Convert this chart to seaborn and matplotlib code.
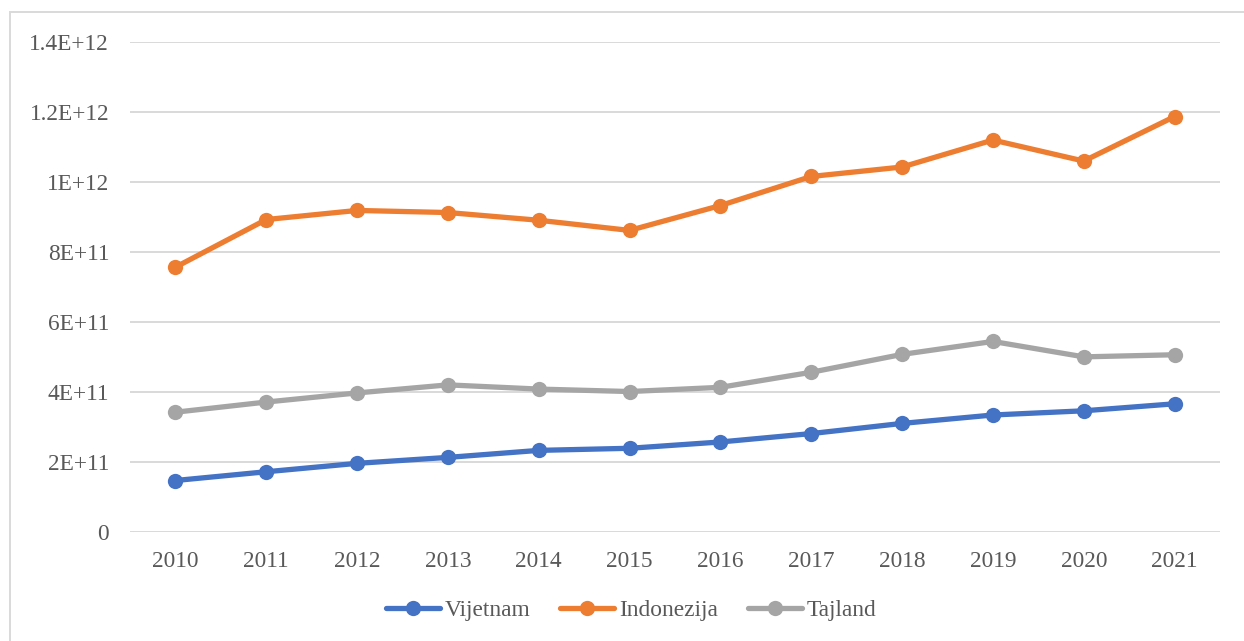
import matplotlib
matplotlib.use("Agg")
import matplotlib.pyplot as plt
from matplotlib.patches import Rectangle
from matplotlib.ticker import FixedLocator, FixedFormatter
import seaborn as sns
import pandas as pd

years = ["2010", "2011", "2012", "2013", "2014", "2015",
         "2016", "2017", "2018", "2019", "2020", "2021"]
vijetnam = [1.47e11, 1.72e11, 1.96e11, 2.13e11, 2.33e11, 2.39e11,
            2.57e11, 2.81e11, 3.10e11, 3.34e11, 3.46e11, 3.66e11]
indonezija = [7.56e11, 8.92e11, 9.18e11, 9.12e11, 8.90e11, 8.61e11,
              9.32e11, 1.015e12, 1.042e12, 1.119e12, 1.059e12, 1.186e12]
tajland = [3.42e11, 3.71e11, 3.97e11, 4.20e11, 4.08e11, 4.01e11,
           4.13e11, 4.56e11, 5.07e11, 5.44e11, 5.00e11, 5.06e11]
series_names = ["Vijetnam", "Indonezija", "Tajland"]
y_ticks = [0, 2e11, 4e11, 6e11, 8e11, 1e12, 1.2e12, 1.4e12]
y_tick_labels = ["0", "2E+11", "4E+11", "6E+11", "8E+11", "1E+12", "1.2E+12", "1.4E+12"]

palette = {"Vijetnam": "#4472C4", "Indonezija": "#ED7D31", "Tajland": "#A5A5A5"}

df = pd.concat([
    pd.DataFrame({"Godina": years, "Vrijednost": vals, "Zemlja": name})
    for name, vals in zip(series_names, [vijetnam, indonezija, tajland])
], ignore_index=True)

sns.set_theme(style="white")
plt.rcParams["font.family"] = ["Liberation Serif", "DejaVu Serif"]
text_color = "#595959"

fig = plt.figure(figsize=(12.44, 6.41), dpi=100)
ax = fig.add_axes([130 / 1244, 1 - 532 / 641, 1090 / 1244, (532 - 41.6) / 641])

sns.lineplot(data=df, x="Godina", y="Vrijednost", hue="Zemlja",
             hue_order=series_names, palette=palette, sort=False,
             marker="o", markersize=11, markeredgewidth=0,
             linewidth=3.8, ax=ax, legend=True)

ax.set_xlim(-0.5, len(years) - 0.5)
ax.set_ylim(0, 1.4e12)
ax.yaxis.set_major_locator(FixedLocator(y_ticks))
ax.yaxis.set_major_formatter(FixedFormatter(y_tick_labels))
ax.grid(axis="y", color="#D9D9D9", linewidth=1.4)
ax.grid(axis="x", visible=False)
ax.set_axisbelow(True)
for side in ["top", "right", "left", "bottom"]:
    ax.spines[side].set_visible(False)
ax.set_xlabel("")
ax.set_ylabel("")
ax.tick_params(axis="both", length=0, labelsize=16.8, labelcolor=text_color)
ax.tick_params(axis="y", pad=15)
ax.tick_params(axis="x", pad=14)

# move the legend out of the axes and centre it below, in figure coordinates
handles, labels = ax.get_legend_handles_labels()
ax.get_legend().remove()
fig.legend(handles, labels, loc="center", bbox_to_anchor=(631 / 1244, 1 - 610 / 641),
           ncol=3, frameon=False, fontsize=16.8, labelcolor=text_color,
           handlelength=2.3, handletextpad=0.2, columnspacing=1.3,
           borderaxespad=0, borderpad=0)

fig.patches.append(Rectangle((9.5 / 1244, -0.1), 1.2, 1 - 12 / 641 + 0.1,
                             transform=fig.transFigure, fill=False,
                             edgecolor="#D9D9D9", linewidth=1.4))

fig.savefig("out.png", dpi=100, facecolor="white")
